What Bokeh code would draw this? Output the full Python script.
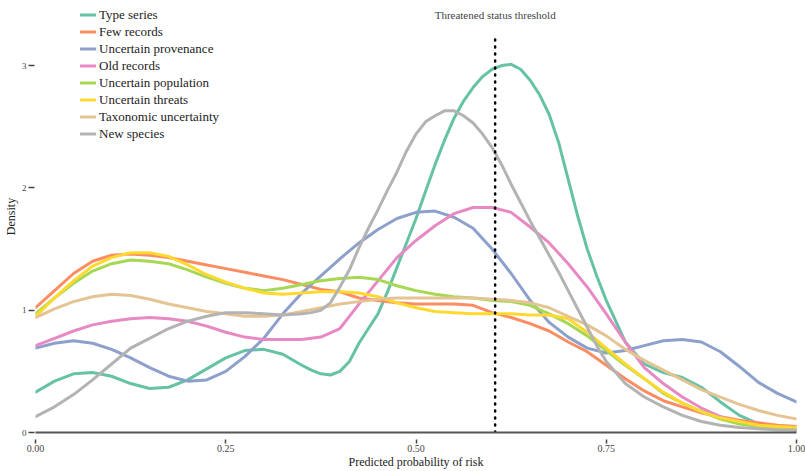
from bokeh.plotting import figure
from bokeh.models import Range1d, FixedTicker, Legend, LegendItem, Label, NumeralTickFormatter
from bokeh.embed import file_html
from bokeh.resources import INLINE

# evaluation grid of the density curves (predicted probability of risk)
x_grid = [i / 40 for i in range(41)]
# finer grid used for the two sharply peaked curves
x_peaked = [0, 0.025, 0.05, 0.075, 0.1, 0.125, 0.15, 0.175, 0.2, 0.225, 0.25, 0.275,
            0.3, 0.325, 0.35, 0.3625, 0.375, 0.3875, 0.4, 0.4125, 0.425, 0.4375,
            0.45, 0.4625, 0.475, 0.4875, 0.5,
            0.5125, 0.525, 0.5375, 0.55, 0.5625, 0.575, 0.5875, 0.6, 0.6125, 0.625,
            0.6375, 0.65, 0.6625, 0.675, 0.6875, 0.7, 0.7125, 0.725, 0.7375, 0.75,
            0.775, 0.8, 0.825, 0.85, 0.875, 0.9, 0.925, 0.95, 0.975, 1.0]

series_names = ["Type series", "Few records", "Uncertain provenance", "Old records",
                "Uncertain population", "Uncertain threats", "Taxonomic uncertainty", "New species"]
series_colors = ["#66c2a5", "#fc8d62", "#8da0cb", "#e78ac3",
                 "#a6d854", "#ffd92f", "#e5c494", "#b3b3b3"]

type_series = [0.33, 0.42, 0.48, 0.49, 0.46, 0.40, 0.36, 0.37, 0.43, 0.52,
               0.61, 0.67, 0.68, 0.64, 0.55, 0.51, 0.48, 0.47, 0.50, 0.58, 0.73, 0.85,
               0.97, 1.15, 1.35, 1.55, 1.75,
               1.97, 2.19, 2.39, 2.57, 2.71, 2.82, 2.91, 2.97, 3.00, 3.01,
               2.97, 2.88, 2.76, 2.60, 2.37, 2.07, 1.77, 1.50, 1.28, 1.08,
               0.74, 0.56, 0.49, 0.45, 0.37, 0.25, 0.14, 0.07, 0.04, 0.02]
few_records = [1.02, 1.16, 1.30, 1.40, 1.45, 1.46, 1.45, 1.43, 1.40, 1.37,
               1.34, 1.31, 1.28, 1.25, 1.21, 1.17, 1.15, 1.10, 1.08, 1.06,
               1.05, 1.05, 1.05, 1.04, 0.98, 0.94, 0.89, 0.83, 0.74, 0.66,
               0.55, 0.44, 0.34, 0.26, 0.21, 0.16, 0.13, 0.10, 0.08, 0.06, 0.05]
uncertain_provenance = [0.69, 0.73, 0.75, 0.73, 0.68, 0.61, 0.53, 0.46, 0.42, 0.43,
                        0.50, 0.62, 0.77, 0.97, 1.14, 1.28, 1.42, 1.55, 1.66, 1.75,
                        1.80, 1.81, 1.76, 1.67, 1.50, 1.30, 1.08, 0.90, 0.78, 0.69,
                        0.65, 0.67, 0.71, 0.75, 0.76, 0.74, 0.66, 0.54, 0.41, 0.32, 0.25]
old_records = [0.71, 0.77, 0.83, 0.88, 0.91, 0.93, 0.94, 0.93, 0.91, 0.87,
               0.82, 0.78, 0.76, 0.76, 0.76, 0.78, 0.85, 1.05, 1.24, 1.43,
               1.57, 1.69, 1.79, 1.84, 1.84, 1.80, 1.68, 1.55, 1.38, 1.19,
               0.97, 0.74, 0.53, 0.40, 0.29, 0.20, 0.13, 0.08, 0.05, 0.03, 0.02]
uncertain_population = [0.97, 1.10, 1.22, 1.32, 1.38, 1.41, 1.40, 1.38, 1.33, 1.27,
                        1.22, 1.18, 1.16, 1.18, 1.21, 1.24, 1.26, 1.27, 1.25, 1.20,
                        1.16, 1.13, 1.11, 1.10, 1.08, 1.07, 1.04, 0.97, 0.89, 0.79,
                        0.67, 0.55, 0.44, 0.32, 0.24, 0.17, 0.11, 0.07, 0.05, 0.03, 0.02]
uncertain_threats = [0.95, 1.10, 1.24, 1.36, 1.43, 1.47, 1.47, 1.44, 1.37, 1.29,
                     1.23, 1.18, 1.14, 1.13, 1.14, 1.15, 1.15, 1.14, 1.11, 1.06,
                     1.02, 0.99, 0.98, 0.97, 0.97, 0.97, 0.96, 0.96, 0.93, 0.82,
                     0.69, 0.56, 0.44, 0.33, 0.24, 0.17, 0.12, 0.09, 0.06, 0.05, 0.04]
taxonomic_uncertainty = [0.94, 1.01, 1.07, 1.11, 1.13, 1.12, 1.09, 1.05, 1.02, 0.99,
                         0.97, 0.95, 0.95, 0.96, 0.99, 1.02, 1.05, 1.07, 1.09, 1.10,
                         1.10, 1.10, 1.10, 1.10, 1.09, 1.08, 1.06, 1.02, 0.95, 0.88,
                         0.79, 0.68, 0.59, 0.51, 0.43, 0.35, 0.29, 0.23, 0.18, 0.14, 0.11]
new_species = [0.13, 0.21, 0.31, 0.43, 0.56, 0.69, 0.77, 0.85, 0.91, 0.95,
               0.98, 0.98, 0.97, 0.96, 0.97, 0.98, 1.00, 1.06, 1.19, 1.33, 1.51, 1.67,
               1.82, 1.98, 2.13, 2.30, 2.44,
               2.54, 2.59, 2.63, 2.63, 2.59, 2.53, 2.44, 2.33, 2.19, 2.03,
               1.88, 1.73, 1.59, 1.45, 1.31, 1.16, 1.01, 0.86, 0.71, 0.58,
               0.40, 0.29, 0.21, 0.14, 0.09, 0.06, 0.04, 0.03, 0.02, 0.02]

series_values = [type_series, few_records, uncertain_provenance, old_records,
                 uncertain_population, uncertain_threats, taxonomic_uncertainty, new_species]
series_x = [x_peaked, x_grid, x_grid, x_grid, x_grid, x_grid, x_grid, x_peaked]

threshold_x = 0.604
threshold_top = 3.26
threshold_label = "Threatened status threshold"
x_ticks = [0, 0.25, 0.5, 0.75, 1.0]
y_ticks = [0, 1, 2, 3]

FONT = "'Liberation Serif', 'Times New Roman', serif"

p = figure(width=805, height=471, x_range=Range1d(0, 1), y_range=Range1d(0, 3.532),
           toolbar_location=None, output_backend="svg",
           min_border_left=34, min_border_right=9, min_border_top=0, min_border_bottom=39)
p.outline_line_color = None
p.grid.visible = False
p.background_fill_color = "white"

renderers = []
for name, col, xs, vals in zip(series_names, series_colors, series_x, series_values):
    r = p.line(xs, vals, line_color=col, line_width=3, line_join="round", line_cap="round")
    renderers.append(r)

# threshold dotted line
p.line([threshold_x, threshold_x], [0, threshold_top], line_color="black",
       line_width=2.5, line_dash="1 6", line_cap="round")
p.add_layout(Label(x=threshold_x, y=3.41, text=threshold_label, text_align="center",
                   text_baseline="middle", text_font=FONT, text_font_size="11px",
                   text_color="#444444"))

# x axis
xa = p.xaxis[0]
xa.ticker = FixedTicker(ticks=x_ticks)
xa.formatter = NumeralTickFormatter(format="0.00")
xa.axis_line_color = "#555555"
xa.axis_line_width = 2
xa.major_tick_in = -7
xa.major_tick_out = 11
xa.major_tick_line_color = "#444444"
xa.major_tick_line_width = 1.5
xa.minor_tick_line_color = None
xa.major_label_standoff = 1
xa.major_label_text_font = FONT
xa.major_label_text_font_size = "10px"
xa.major_label_text_color = "#444444"
xa.axis_label = "Predicted probability of risk"
xa.axis_label_standoff = 0
xa.axis_label_text_font = FONT
xa.axis_label_text_font_size = "12px"
xa.axis_label_text_font_style = "normal"
xa.axis_label_text_color = "#222222"

# y axis
ya = p.yaxis[0]
ya.ticker = FixedTicker(ticks=y_ticks)
ya.axis_line_color = None
ya.major_tick_in = -1
ya.major_tick_out = 7
ya.major_tick_line_color = "#444444"
ya.major_tick_line_width = 1.5
ya.minor_tick_line_color = None
ya.major_label_standoff = 2
ya.major_label_text_font = FONT
ya.major_label_text_font_size = "9px"
ya.major_label_text_color = "#444444"
ya.axis_label = "Density"
ya.axis_label_standoff = 1
ya.axis_label_text_font = FONT
ya.axis_label_text_font_size = "12px"
ya.axis_label_text_font_style = "normal"
ya.axis_label_text_color = "#222222"

legend = Legend(items=[LegendItem(label=n, renderers=[r]) for n, r in zip(series_names, renderers)],
                location=(45, 290), orientation="vertical")
legend.label_text_font = FONT
legend.label_text_font_size = "13px"
legend.label_text_color = "#222222"
legend.glyph_width = 16
legend.glyph_height = 17
legend.label_height = 17
legend.label_standoff = 3
legend.spacing = 0
legend.padding = 0
legend.margin = 0
legend.border_line_color = None
legend.background_fill_alpha = 0
p.add_layout(legend)

open("out.html", "w").write(file_html(p, INLINE))
